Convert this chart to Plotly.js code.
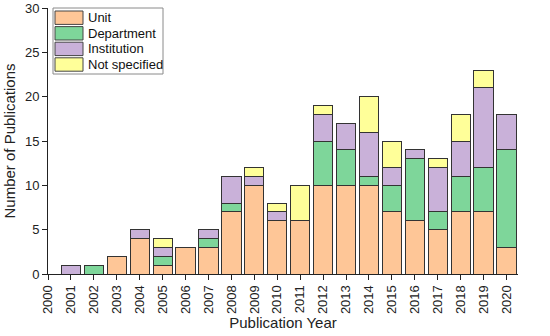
<!DOCTYPE html>
<html><head><meta charset="utf-8">
<script src="https://cdn.plot.ly/plotly-3.0.1.min.js"></script>
<style>html,body{margin:0;padding:0;background:#fff}#c{width:550px;height:336px}</style>
</head><body><div id="c"></div>
<script>
const years = [2001,2002,2003,2004,2005,2006,2007,2008,2009,2010,2011,2012,2013,2014,2015,2016,2017,2018,2019,2020];
const unit         = [0,0,2,4,1,3,3,7,10,6,6,10,10,10,7,6,5,7,7,3];
const department   = [0,1,0,0,1,0,1,1,0,0,0,5,4,1,3,7,2,4,5,11];
const institution  = [1,0,0,1,1,0,1,3,1,1,0,3,3,5,2,1,5,4,9,4];
const notSpecified = [0,0,0,0,1,0,0,0,1,1,4,1,0,4,3,0,1,3,2,0];
const seriesNames = ['Unit','Department','Institution','Not specified'];
const xTicks = ['2000','2001','2002','2003','2004','2005','2006','2007','2008','2009','2010','2011','2012','2013','2014','2015','2016','2017','2018','2019','2020'];

const colors = ['#FEC697','#7ED69A','#C9B1D9','#FFFF99'];
const W = 550, H = 336, M = {l:48, r:32, t:8, b:62};
const pw = W - M.l - M.r, ph = H - M.t - M.b;
const px2x = p => (p - M.l) / pw;
const py2y = p => (H - M.b - p) / ph;

const vals = [unit, department, institution, notSpecified];
const traces = vals.map((v,i)=>({
  type:'bar', x:years, y:v, name:seriesNames[i], width:0.84,
  marker:{color:colors[i], line:{color:'#333333', width:1}}
}));

// custom legend (box, swatches, labels)
const shapes = [{type:'rect', xref:'paper', yref:'paper', layer:'above',
  x0:px2x(53), x1:px2x(163), y0:py2y(74), y1:py2y(8),
  fillcolor:'#fff', line:{color:'#8a8a8a', width:1}}];
const annotations = [];
seriesNames.forEach((n,i)=>{
  const top = 11 + i*15.6, bot = top + 13.4;
  shapes.push({type:'rect', xref:'paper', yref:'paper', layer:'above',
    x0:px2x(55), x1:px2x(83), y0:py2y(bot), y1:py2y(top),
    fillcolor:colors[i], line:{color:'#444', width:1}});
  annotations.push({xref:'paper', yref:'paper', x:px2x(86), y:py2y((top+bot)/2),
    xanchor:'left', yanchor:'middle', text:n, showarrow:false,
    font:{size:13, color:'#111'}});
});

const layout = {
  width:W, height:H, barmode:'stack',
  margin:M, showlegend:false,
  paper_bgcolor:'#fff', plot_bgcolor:'#fff',
  font:{family:'Liberation Sans, Arial, sans-serif', size:13, color:'#222'},
  shapes, annotations,
  xaxis:{range:[2000,2020.5], tickmode:'array', tickvals:xTicks.map(Number), ticktext:xTicks, tickangle:-90,
         showgrid:false, zeroline:false, showline:true, linecolor:'#222', linewidth:1,
         ticks:'outside', ticklen:5, tickcolor:'#222', tickfont:{size:13},
         title:{text:'Publication Year', font:{size:15}, standoff:3}},
  yaxis:{range:[0,30], tickvals:[0,5,10,15,20,25,30], showgrid:false, zeroline:false, showline:true,
         linecolor:'#222', linewidth:1, ticks:'outside', ticklen:5, tickcolor:'#222', tickfont:{size:13},
         title:{text:'Number of Publications', font:{size:15}, standoff:5}}
};
Plotly.newPlot('c', traces, layout, {staticPlot:true, displayModeBar:false});
</script></body></html>
